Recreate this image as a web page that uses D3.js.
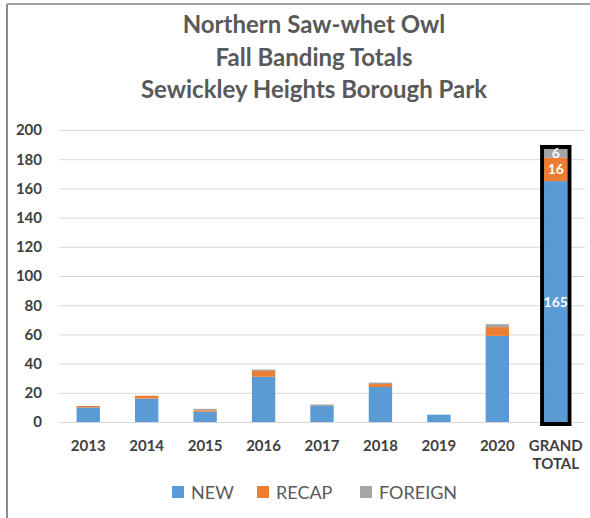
<!DOCTYPE html>
<html>
<head>
<meta charset="utf-8">
<script src="https://cdn.jsdelivr.net/npm/d3@7"></script>
<style>
  body { margin: 0; background: #fff; }
  svg { font-family: Lato, "Open Sans", sans-serif; }
</style>
</head>
<body>
<div id="chart"></div>
<script>
// values
const years = ["2013", "2014", "2015", "2016", "2017", "2018", "2019", "2020"];
const newBirds = [10, 16, 7, 31, 11, 24, 5, 59];
const recaps = [1, 2, 1, 4, 0, 2, 0, 6];
const foreign = [0, 0, 1, 1, 1, 1, 0, 2];
const grandTotal = { NEW: 165, RECAP: 16, FOREIGN: 6 };
const yTicks = [0, 20, 40, 60, 80, 100, 120, 140, 160, 180, 200];
const seriesNames = ["NEW", "RECAP", "FOREIGN"];
const titleLines = ["Northern Saw-whet Owl", "Fall Banding Totals", "Sewickley Heights Borough Park"];

let conf = {
    div: '#chart',
    width: 590,
    height: 518,
    top: 130,
    bottom: 422,
    left: 59,
    right: 585
};

const colors = { NEW: "#5b9bd5", RECAP: "#ed7d31", FOREIGN: "#a5a5a5" };

const rows = years.map((y, i) => ({ cat: y, NEW: newBirds[i], RECAP: recaps[i], FOREIGN: foreign[i] }));
rows.push({ cat: "GRAND TOTAL", ...grandTotal });

const svg = d3.select(conf.div)
    .append("svg")
    .attr("width", conf.width)
    .attr("height", conf.height);

// frame of the pasted picture
svg.append("line").attr("x1", 7).attr("x2", 7).attr("y1", 4).attr("y2", conf.height)
    .attr("stroke", "#8c8c8c").attr("stroke-width", 2);
svg.append("line").attr("x1", 7).attr("x2", conf.width).attr("y1", 4).attr("y2", 4)
    .attr("stroke", "#a0a0a0").attr("stroke-width", 2);

// title
svg.append("g").selectAll("text")
    .data(titleLines)
    .join("text")
    .attr("x", 314)
    .attr("y", (d, i) => 33 + i * 32.5)
    .attr("text-anchor", "middle")
    .attr("font-size", 24)
    .attr("font-weight", "bold")
    .attr("fill", "#595959")
    .text(d => d);

let x = d3.scaleBand()
    .domain(rows.map(d => d.cat))
    .range([conf.left, conf.right])
    .paddingInner(0.6)
    .paddingOuter(0.3);

let y = d3.scaleLinear()
    .domain([0, 200])
    .range([conf.bottom, conf.top]);

// grid + y labels
let yAxis = svg.append("g")
    .attr("transform", `translate(${conf.left},0)`)
    .call(d3.axisLeft(y).tickValues(yTicks).tickSize(-(conf.right - conf.left)).tickPadding(17));
yAxis.select(".domain").remove();
yAxis.selectAll(".tick line").attr("stroke", "#d9d9d9");
yAxis.selectAll(".tick text")
    .attr("font-family", "Lato, sans-serif")
    .attr("font-size", 15)
    .attr("font-weight", "bold")
    .attr("fill", "#404040");

// stacked bars
const stack = d3.stack().keys(seriesNames)(rows);
svg.append("g").selectAll("g")
    .data(stack)
    .join("g")
    .attr("fill", d => colors[d.key])
    .selectAll("rect")
    .data(d => d)
    .join("rect")
    .attr("x", d => x(d.data.cat))
    .attr("width", x.bandwidth())
    .attr("y", d => y(d[1]))
    .attr("height", d => y(d[0]) - y(d[1]));

// black outline round the grand total
const g = rows[rows.length - 1];
const gTop = g.NEW + g.RECAP + g.FOREIGN;
svg.append("rect")
    .attr("x", x(g.cat) - 2)
    .attr("width", x.bandwidth() + 4)
    .attr("y", y(gTop) - 2)
    .attr("height", y(0) - y(gTop) + 4)
    .attr("fill", "none")
    .attr("stroke", "#000")
    .attr("stroke-width", 4);

// labels on the grand total
svg.append("g").selectAll("text")
    .data(stack.map(s => s[s.length - 1]))
    .join("text")
    .attr("x", x(g.cat) + x.bandwidth() / 2)
    .attr("y", d => (y(d[0]) + y(d[1])) / 2 + 5)
    .attr("text-anchor", "middle")
    .attr("font-size", 14)
    .attr("font-weight", "bold")
    .attr("fill", "#fff")
    .text(d => d[1] - d[0]);

// x labels
const xl = svg.append("g").selectAll("text")
    .data(rows)
    .join("text")
    .attr("x", d => x(d.cat) + x.bandwidth() / 2)
    .attr("y", 451)
    .attr("text-anchor", "middle")
    .attr("font-size", 15)
    .attr("font-weight", "bold")
    .attr("fill", "#404040");
xl.selectAll("tspan")
    .data(d => d.cat.split(" "))
    .join("tspan")
    .attr("x", function() { return d3.select(this.parentNode).attr("x"); })
    .attr("dy", (d, i) => i === 0 ? 0 : 18)
    .text(d => d);

// legend
const legendX = [172, 257, 360];
const leg = svg.append("g").selectAll("g")
    .data(seriesNames)
    .join("g")
    .attr("transform", (d, i) => `translate(${legendX[i]},486)`);
leg.append("rect").attr("width", 12).attr("height", 12).attr("fill", d => colors[d]);
leg.append("text")
    .attr("x", 19)
    .attr("y", 13)
    .attr("font-size", 18)
    .attr("fill", "#595959")
    .text(d => d);
</script>
</body>
</html>
